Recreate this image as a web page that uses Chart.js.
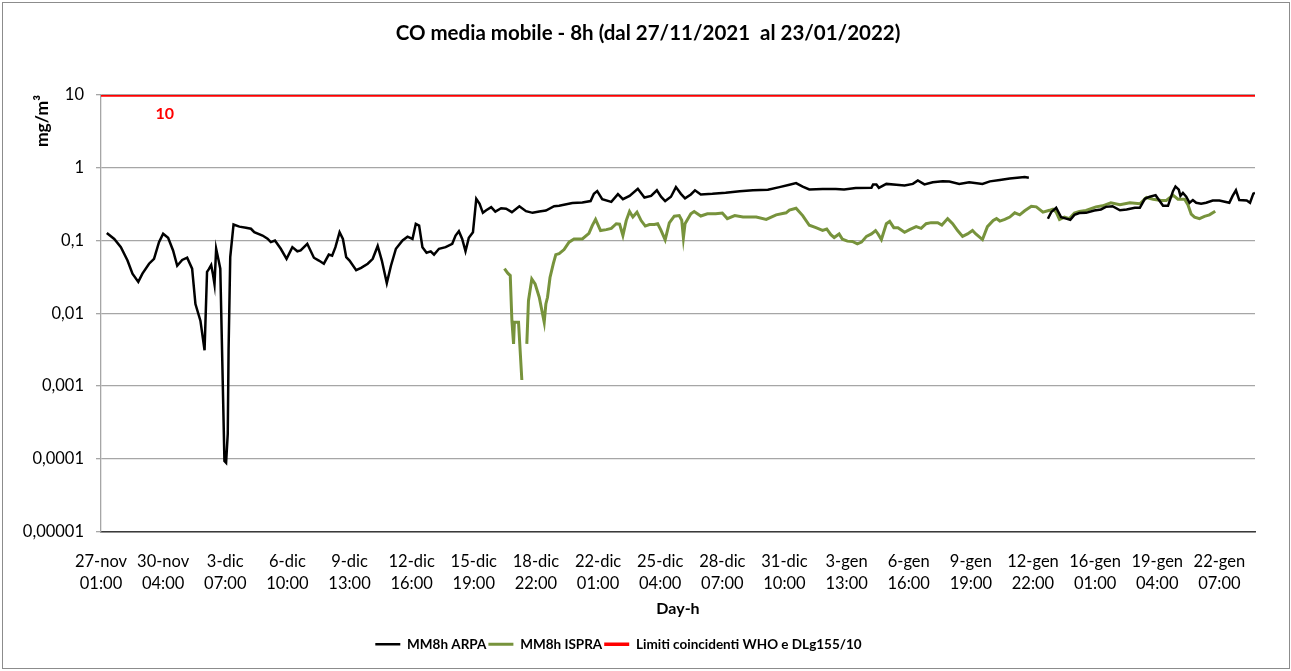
<!DOCTYPE html>
<html lang="it">
<head>
<meta charset="utf-8">
<title>CO media mobile - 8h</title>
<script src="https://cdn.jsdelivr.net/npm/chart.js@4.4.1/dist/chart.umd.min.js"></script>
<style>
  html, body { margin: 0; padding: 0; background: #fff; }
  #wrap { width: 1291px; height: 671px; }
</style>
</head>
<body>
<div id="wrap"><canvas id="coChart" width="1291" height="671"></canvas></div>
<script>
// Category labels (one every 75 hours, starting 27-nov 01:00)
const xTickStep = 75;
const xTickDays = ['27-nov', '30-nov', '3-dic', '6-dic', '9-dic', '12-dic', '15-dic', '18-dic', '22-dic', '25-dic',
    '28-dic', '31-dic', '3-gen', '6-gen', '9-gen', '12-gen', '16-gen', '19-gen', '22-gen'];
const xTickHours = ['01:00', '04:00', '07:00', '10:00', '13:00', '16:00', '19:00', '22:00', '01:00', '04:00',
    '07:00', '10:00', '13:00', '16:00', '19:00', '22:00', '01:00', '04:00', '07:00'];
const xMaxHour = 1393;

const yTickValues = [0.00001, 0.0001, 0.001, 0.01, 0.1, 1, 10];
const yTickLabels = ['0,00001', '0,0001', '0,001', '0,01', '0,1', '1', '10'];

// MM8h ARPA (hour index from 27-nov 01:00, mg/m3)
const arpaHours = [7, 16, 24, 32, 38, 45, 50, 58, 64, 70, 75, 81, 87, 92, 98, 104, 110, 114, 120, 125,
    128, 130, 133, 135, 137, 139, 142, 144, 147, 149, 151, 153, 154, 156, 160, 167, 175, 181, 185, 195,
    201, 205, 210, 217, 224, 231, 237, 241, 249, 257, 263, 269, 275, 279, 283, 288, 292, 296, 300, 308,
    314, 322, 328, 334, 339, 345, 350, 356, 364, 370, 376, 380, 384, 388, 393, 398, 402, 408, 416, 424,
    428, 432, 436, 440, 444, 449, 453, 457, 461, 465, 471, 476, 483, 489, 496, 505, 513, 521, 529, 537,
    547, 553, 569, 581, 591, 595, 599, 605, 616, 624, 630, 638, 648, 656, 664, 671, 676, 681, 688, 694,
    700, 705, 712, 717, 724, 738, 754, 771, 787, 805, 819, 831, 839, 847, 855, 871, 887, 897, 911, 930,
    932, 936, 939, 948, 960, 970, 980, 986, 994, 1004, 1016, 1024, 1036, 1048, 1064, 1073, 1085, 1097, 1115, 1120,
    1131,
    1143, 1147, 1153, 1159, 1165, 1170, 1175, 1181, 1189, 1199, 1207, 1213, 1221, 1230, 1238, 1248, 1254, 1260, 1266, 1273,
    1282, 1288, 1294, 1297, 1301, 1303, 1306, 1310, 1314, 1318, 1322, 1328, 1334, 1342, 1350, 1362, 1366, 1370, 1374, 1383,
    1387, 1391, 1393];
const arpaValues = [0.127, 0.105, 0.081, 0.053, 0.035, 0.027, 0.035, 0.048, 0.056, 0.095, 0.124, 0.109, 0.073, 0.045, 0.054, 0.058, 0.041, 0.0134, 0.0079, 0.0031,
    0.037, 0.040, 0.046, 0.035, 0.025, 0.077, 0.053, 0.041, 0.00107, 0.000093, 0.000088, 0.00022, 0.0031, 0.059, 0.166, 0.155, 0.150, 0.145, 0.130, 0.117,
    0.106, 0.095, 0.100, 0.077, 0.056, 0.081, 0.071, 0.073, 0.090, 0.058, 0.053, 0.048, 0.064, 0.062, 0.081, 0.130, 0.105, 0.059, 0.053, 0.039,
    0.042, 0.048, 0.056, 0.084, 0.053, 0.026, 0.045, 0.077, 0.100, 0.113, 0.105, 0.169, 0.160, 0.081, 0.068, 0.071, 0.064, 0.077, 0.081, 0.090,
    0.117, 0.134, 0.105, 0.071, 0.109, 0.130, 0.374, 0.320, 0.240, 0.260, 0.288, 0.250, 0.278, 0.273, 0.245, 0.296, 0.253, 0.240, 0.250, 0.258,
    0.296, 0.300, 0.327, 0.334, 0.348, 0.438, 0.477, 0.370, 0.340, 0.433, 0.370, 0.410, 0.514, 0.390, 0.410, 0.490, 0.400, 0.348, 0.400, 0.542,
    0.438, 0.380, 0.430, 0.490, 0.430, 0.438, 0.453, 0.477, 0.490, 0.500, 0.542, 0.583, 0.615, 0.550, 0.503, 0.510, 0.510, 0.503, 0.525, 0.530,
    0.590, 0.590, 0.530, 0.600, 0.583, 0.570, 0.600, 0.670, 0.590, 0.630, 0.650, 0.645, 0.600, 0.630, 0.600, 0.650, 0.680, 0.713, 0.745, 0.728,
    null,
    0.199, 0.245, 0.282, 0.209, 0.200, 0.193, 0.225, 0.238, 0.240, 0.259, 0.267, 0.290, 0.296, 0.260, 0.267, 0.281, 0.281, 0.374, 0.400, 0.420,
    0.300, 0.300, 0.477, 0.553, 0.500, 0.410, 0.450, 0.400, 0.330, 0.360, 0.330, 0.320, 0.330, 0.355, 0.355, 0.330, 0.410, 0.490, 0.360, 0.355,
    0.330, 0.440, 0.450];

// MM8h ISPRA
const ispraHours = [487, 491, 494, 496, 498, 499, 504, 508, 511,
    514, 516, 520, 524, 529, 535, 537, 539, 542, 546, 549, 553, 559, 565, 571, 581, 589, 593, 597, 603, 610,
    616, 622, 626, 630, 634, 638, 642, 647, 652, 657, 662, 668, 672, 676, 681, 686, 692, 698, 701, 703,
    705, 712, 716, 724, 732, 742, 750, 756, 765, 775, 791, 803, 815, 827, 831, 839, 847, 855, 863, 871,
    876, 881, 885, 891, 895, 901, 907, 913, 918, 924, 930, 935, 938, 942, 948, 952, 957, 962, 970, 976,
    984, 990, 996, 1002, 1010, 1015, 1022, 1028, 1034, 1040, 1046, 1052, 1056, 1064, 1070, 1077, 1081, 1085, 1091, 1097,
    1103, 1109, 1115, 1123, 1129, 1137, 1145, 1149, 1153, 1157, 1163, 1169, 1175, 1181, 1189, 1201, 1209, 1219, 1230, 1242,
    1254, 1262, 1270, 1280, 1286, 1294, 1300, 1308, 1312, 1316, 1320, 1326, 1332, 1338, 1345];
const ispraValues = [0.041, 0.0355, 0.033, 0.0079, 0.0038, 0.0075, 0.0075, 0.00121, null,
    0.0038, 0.0149, 0.0296, 0.0253, 0.0166, 0.0075, 0.0134, 0.0166, 0.031, 0.048, 0.064, 0.066, 0.075, 0.095, 0.105, 0.105, 0.125, 0.160, 0.195, 0.137, 0.141,
    0.147, 0.170, 0.168, 0.117, 0.188, 0.250, 0.210, 0.245, 0.188, 0.158, 0.166, 0.166, 0.170, 0.138, 0.102, 0.175, 0.216, 0.220, 0.190, 0.109,
    0.170, 0.233, 0.250, 0.217, 0.233, 0.233, 0.238, 0.200, 0.220, 0.210, 0.210, 0.195, 0.225, 0.240, 0.262, 0.278, 0.220, 0.162, 0.150, 0.138,
    0.144, 0.120, 0.110, 0.123, 0.104, 0.098, 0.097, 0.090, 0.095, 0.114, 0.123, 0.137, 0.123, 0.103, 0.170, 0.183, 0.150, 0.150, 0.130, 0.141,
    0.155, 0.147, 0.170, 0.176, 0.176, 0.163, 0.200, 0.170, 0.137, 0.114, 0.123, 0.137, 0.123, 0.103, 0.155, 0.188, 0.200, 0.185, 0.195, 0.210,
    0.240, 0.225, 0.256, 0.296, 0.290, 0.245, 0.260, 0.270, 0.245, 0.195, 0.210, 0.200, 0.238, 0.250, 0.259, 0.290, 0.300, 0.330, 0.310, 0.330,
    0.320, 0.390, 0.370, 0.355, 0.355, 0.420, 0.370, 0.370, 0.310, 0.230, 0.210, 0.200, 0.215, 0.225, 0.253];

// Limiti coincidenti WHO e DLg155/10
const limitHours = [0, xMaxHour];
const limitValues = [10, 10];
const limitLabelHour = 77;

const FONT = 'Lato, "Open Sans", sans-serif';

function toPoints(hours, values) {
    return hours.map((h, i) => ({ x: h, y: values[i] }));
}

// border round the whole picture + red value label on the limit line
const extrasPlugin = {
    id: 'extras',
    afterLayout(chart) {
        // title centred on the whole picture, legend a bit to the left (as in the original)
        if (chart.titleBlock) chart.titleBlock.left += 41;
        if (chart.legend) {
            chart.legend.left -= 9;
            chart.legend.right -= 9;
        }
    },
    afterDraw(chart) {
        const ctx = chart.ctx;
        const xs = chart.scales.x;
        const ys = chart.scales.y;
        ctx.save();
        ctx.strokeStyle = '#8c8c8c';
        ctx.lineWidth = 1;
        ctx.strokeRect(2.5, 2.5, 1287, 666);
        ctx.fillStyle = '#ff0000';
        ctx.font = 'bold 16px ' + FONT;
        ctx.textAlign = 'center';
        ctx.textBaseline = 'middle';
        ctx.fillText(String(limitValues[0]), xs.getPixelForValue(limitLabelHour), ys.getPixelForValue(limitValues[0]) + 19);
        ctx.restore();
    }
};

new Chart(document.getElementById('coChart'), {
    type: 'line',
    data: {
        datasets: [{
            label: 'MM8h ARPA',
            data: toPoints(arpaHours, arpaValues),
            borderColor: '#000000',
            backgroundColor: '#000000',
            borderWidth: 2.5,
            pointRadius: 0,
            pointStyle: 'line',
            tension: 0
        }, {
            label: 'MM8h ISPRA',
            data: toPoints(ispraHours, ispraValues),
            borderColor: '#77933c',
            backgroundColor: '#77933c',
            borderWidth: 3,
            pointRadius: 0,
            pointStyle: 'line',
            tension: 0
        }, {
            label: 'Limiti coincidenti WHO e DLg155/10',
            data: toPoints(limitHours, limitValues),
            borderColor: '#ff0000',
            backgroundColor: '#ff0000',
            borderWidth: 3.5,
            pointRadius: 0,
            pointStyle: 'line',
            tension: 0
        }]
    },
    options: {
        responsive: false,
        animation: false,
        spanGaps: false,
        layout: { padding: { left: 0, right: 36, top: 0, bottom: 10 } },
        plugins: {
            title: {
                display: true,
                text: 'CO media mobile - 8h (dal 27/11/2021  al 23/01/2022)',
                color: '#000',
                font: { family: FONT, size: 20.5, weight: 'bold' },
                padding: { top: 21, bottom: 49.4 }
            },
            legend: {
                position: 'bottom',
                labels: {
                    color: '#000',
                    font: { family: FONT, size: 13.5, weight: 'bold' },
                    usePointStyle: true,
                    pointStyleWidth: 25,
                    boxHeight: 14,
                    padding: 2
                }
            },
            tooltip: { enabled: false }
        },
        scales: {
            x: {
                type: 'linear',
                min: 0,
                max: xMaxHour,
                afterFit(scale) { scale.height = 104; },
                afterBuildTicks(scale) {
                    scale.ticks = xTickDays.map((d, i) => ({ value: i * xTickStep }));
                },
                ticks: {
                    autoSkip: false,
                    maxRotation: 0,
                    color: '#000',
                    padding: 19,
                    font: { family: FONT, size: 16.5, lineHeight: 1.33 },
                    callback: (value, index) => [xTickDays[index], xTickHours[index]]
                },
                grid: { display: false, drawTicks: false },
                border: { color: '#3a3a3a', width: 1.5 },
                title: {
                    display: true,
                    text: 'Day-h',
                    color: '#000',
                    font: { family: FONT, size: 16, weight: 'bold' },
                    padding: { top: 4, bottom: 17.4 }
                }
            },
            y: {
                type: 'logarithmic',
                min: yTickValues[0],
                max: yTickValues[yTickValues.length - 1],
                afterFit(scale) { scale.width = 101; },
                afterBuildTicks(scale) {
                    scale.ticks = yTickValues.map(v => ({ value: v, major: true }));
                },
                ticks: {
                    color: '#000',
                    padding: 12,
                    font: { family: FONT, size: 16.5 },
                    callback: (value, index) => yTickLabels[index]
                },
                grid: { color: '#a6a6a6', lineWidth: 1.3, drawTicks: true, tickLength: 5 },
                border: { color: '#a6a6a6', width: 1.3 },
                title: {
                    display: true,
                    text: 'mg/m³',
                    align: 'end',
                    color: '#000',
                    font: { family: FONT, size: 17.5, weight: 'bold' },
                    padding: { top: 31.5, bottom: 0 }
                }
            }
        }
    },
    plugins: [extrasPlugin]
});
</script>
</body>
</html>
